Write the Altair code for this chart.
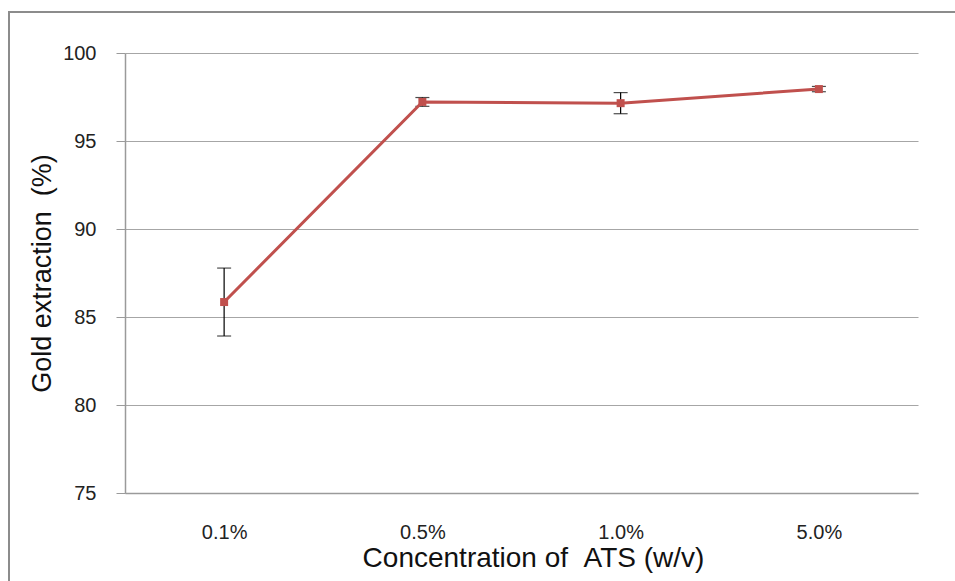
import altair as alt
import pandas as pd

# ATS concentration levels and measured gold extraction (mean ± error)
concentrations = ["0.1%", "0.5%", "1.0%", "5.0%"]
extraction = [85.85, 97.22, 97.15, 97.95]
error = [1.93, 0.25, 0.60, 0.15]

df = pd.DataFrame({
    "conc": concentrations,
    "gold": extraction,
    "lo": [v - e for v, e in zip(extraction, error)],
    "hi": [v + e for v, e in zip(extraction, error)],
})

FONT = "Liberation Sans"
RED = "#C0504D"
NBSP = "\u00a0"

x_enc = alt.X(
    "conc:N",
    sort=concentrations,
    scale=alt.Scale(type="point", padding=0.5),
    axis=alt.Axis(
        title=f"Concentration of {NBSP}ATS (w/v)",
        labelAngle=0,
        labelFontSize=20,
        labelColor="#222222",
        labelPadding=29,
        ticks=False,
        domainColor="#9a9a9a",
        domainWidth=1.5,
        titleFontSize=28,
        titleFontWeight="normal",
        titleColor="#111111",
        titleX=408,
        titleY=73,
        titleBaseline="alphabetic",
        grid=False,
    ),
)

y_scale = alt.Scale(domain=[75, 100], nice=False, zero=False)
y_axis = alt.Axis(
    title=f"Gold extraction {NBSP}(%)",
    values=[75, 80, 85, 90, 95, 100],
    labelFontSize=20,
    labelColor="#222222",
    labelPadding=20,
    tickSize=9,
    tickColor="#9a9a9a",
    domainColor="#9a9a9a",
    domainWidth=1.5,
    gridColor="#a6a6a6",
    gridWidth=1.2,
    titleFontSize=27,
    titleFontWeight="normal",
    titleColor="#111111",
    titleX=-75,
    titleY=220,
    titleBaseline="alphabetic",
)

base = alt.Chart(df)

rules = base.mark_rule(color="black", strokeWidth=1.2).encode(
    x=x_enc,
    y=alt.Y("lo:Q", scale=y_scale, axis=y_axis),
    y2="hi:Q",
)

caps_hi = base.mark_tick(color="black", size=14, thickness=1.2, orient="horizontal").encode(
    x=x_enc, y=alt.Y("hi:Q", scale=y_scale)
)
caps_lo = base.mark_tick(color="black", size=14, thickness=1.2, orient="horizontal").encode(
    x=x_enc, y=alt.Y("lo:Q", scale=y_scale)
)

line = base.mark_line(color=RED, strokeWidth=3).encode(
    x=x_enc, y=alt.Y("gold:Q", scale=y_scale)
)
points = base.mark_square(color=RED, size=64, opacity=1).encode(
    x=x_enc, y=alt.Y("gold:Q", scale=y_scale)
)

# outer frame around the figure
frame = alt.Chart(pd.DataFrame({"k": [0]})).mark_rect(
    fill=None, stroke="#8c8c8c", strokeWidth=2, clip=False
).encode(
    x=alt.value(-116), x2=alt.value(900),
    y=alt.value(-41), y2=alt.value(600),
)

chart = (
    alt.layer(frame, rules, caps_hi, caps_lo, line, points)
    .properties(
        width=793,
        height=440,
        autosize=alt.AutoSizeParams(type="none"),
        padding={"left": 125, "top": 53, "right": 37, "bottom": 88},
    )
    .configure(font=FONT, background="white")
    .configure_view(stroke=None)
)

chart.save("out.html", embed_options={"renderer": "svg", "actions": False})
